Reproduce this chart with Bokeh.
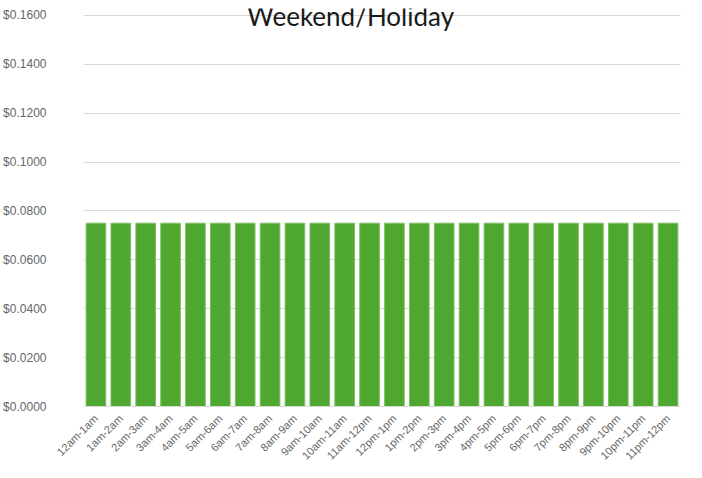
from bokeh.plotting import figure
from bokeh.models import NumeralTickFormatter, FixedTicker, Range1d, Label
from bokeh.embed import file_html
from bokeh.resources import INLINE
import math

categories = ["12am-1am", "1am-2am", "2am-3am", "3am-4am", "4am-5am", "5am-6am",
              "6am-7am", "7am-8am", "8am-9am", "9am-10am", "10am-11am", "11am-12pm",
              "12pm-1pm", "1pm-2pm", "2pm-3pm", "3pm-4pm", "4pm-5pm", "5pm-6pm",
              "6pm-7pm", "7pm-8pm", "8pm-9pm", "9pm-10pm", "10pm-11pm", "11pm-12pm"]
rates = [0.075] * 24
y_ticks = [0.0, 0.02, 0.04, 0.06, 0.08, 0.10, 0.12, 0.14, 0.16]
title_text = "Weekend/Holiday"

p = figure(x_range=categories, width=686, height=468, output_backend="svg",
           toolbar_location=None, min_border_left=76, min_border_right=6,
           min_border_top=8, min_border_bottom=61)
p.y_range = Range1d(0, 0.16286)
p.outline_line_color = None
p.background_fill_color = "white"

p.vbar(x=categories, top=rates, width=0.79, fill_color="#4EA72E",
       line_color="#7dc064", line_width=1)

p.yaxis.ticker = FixedTicker(ticks=y_ticks)
p.yaxis.formatter = NumeralTickFormatter(format="$0.0000")
p.yaxis.axis_line_color = None
p.yaxis.major_tick_line_color = None
p.yaxis.minor_tick_line_color = None
p.yaxis.major_label_standoff = 31
p.yaxis.major_label_text_font = "Liberation Sans"
p.yaxis.major_label_text_font_size = "12px"
p.yaxis.major_label_text_color = "#666666"

p.xaxis.axis_line_color = "#d9d9d9"
p.xaxis.major_tick_line_color = None
p.xaxis.minor_tick_line_color = None
p.xaxis.major_label_orientation = math.pi / 4
p.xaxis.major_label_standoff = 4
p.xaxis.major_label_text_font = "Liberation Sans"
p.xaxis.major_label_text_font_size = "11px"
p.xaxis.major_label_text_color = "#666666"

p.xgrid.grid_line_color = None
p.ygrid.grid_line_color = "#d9d9d9"

title = Label(x=267, y=407, x_units="screen", y_units="screen", text=title_text,
              text_align="center", text_baseline="top",
              text_font="Lato", text_font_size="26px", text_color="#1a1a1a")
p.add_layout(title)

open("out.html", "w").write(file_html(p, INLINE))
